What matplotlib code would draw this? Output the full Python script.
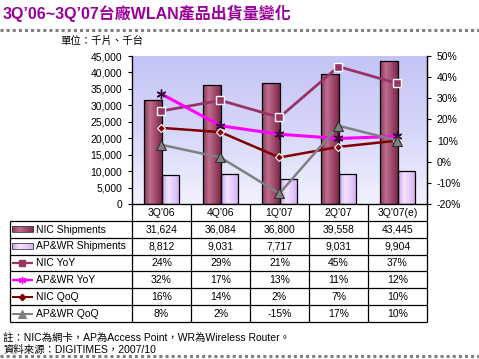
import numpy as np
import matplotlib
matplotlib.use("Agg")
import matplotlib.pyplot as plt
from matplotlib.colors import LinearSegmentedColormap
from matplotlib.lines import Line2D
from matplotlib.patches import Rectangle

plt.rcParams['font.family'] = ['Liberation Sans', 'Noto Sans CJK TC']

categories = ["3Q'06", "4Q'06", "1Q'07", "2Q'07", "3Q'07(e)"]
nic_ship = [31624, 36084, 36800, 39558, 43445]
ap_ship = [8812, 9031, 7717, 9031, 9904]
nic_yoy = [24, 29, 21, 45, 37]
ap_yoy = [32, 17, 13, 11, 12]
nic_qoq = [16, 14, 2, 7, 10]
ap_qoq = [8, 2, -15, 17, 10]

W, H = 479, 359
fig = plt.figure(figsize=(W / 100, H / 100), dpi=100)

def fx(px):
    return px / W

def fy(py):
    return 1 - py / H

# plot area in pixels
L, R, T, B = 132, 427, 56, 204
ax = fig.add_axes([fx(L), fy(B), fx(R - L), (B - T) / H])
n = len(categories)
x = np.arange(n)

# background gradient
bg = LinearSegmentedColormap.from_list('bg', ['#f2f2fe', '#d6d6fa', '#c4c4f6'])
ax.imshow(np.linspace(0, 1, 256).reshape(-1, 1), cmap=bg, origin='lower',
          extent=(0, 1, 0, 1), transform=ax.transAxes, aspect='auto', zorder=0)

bw = 0.3
nic_cmap = LinearSegmentedColormap.from_list('nic', ['#8a3a5a', '#bd6d8d', '#a04a6c', '#7a2848'])
ap_cmap = LinearSegmentedColormap.from_list('ap', ['#c8a0f0', '#f4e4ff', '#e6ccfc', '#d0acf4'])

def grad_bars(xs, vals, cmap):
    bars = ax.bar(xs, vals, width=bw, align='edge',
                  facecolor='none', edgecolor='black', linewidth=0.9, zorder=3)
    for b in bars:
        x0, y0, w, h = b.get_x(), b.get_y(), b.get_width(), b.get_height()
        im = ax.imshow(np.linspace(0, 1, 64).reshape(1, -1), cmap=cmap,
                       extent=(x0, x0 + w, y0, y0 + h), aspect='auto', zorder=2)
        im.set_clip_path(b)
    return bars

grad_bars(x - bw, nic_ship, nic_cmap)
grad_bars(x, ap_ship, ap_cmap)

ax.set_xlim(-0.5, n - 0.5)
ax.set_ylim(0, 45000)
ax.set_yticks(np.arange(0, 45001, 5000))
ax.set_yticklabels([f"{v:,}" for v in range(0, 45001, 5000)], fontsize=7.5)
ax.set_xticks([])
ax.spines['top'].set_visible(False)
ax.tick_params(axis='y', direction='out', length=3, width=0.8, pad=4)
for s in ['left', 'bottom', 'right']:
    ax.spines[s].set_linewidth(0.9)

ax2 = ax.twinx()
ax2.set_ylim(-20, 50)
ax2.set_yticks(np.arange(-20, 51, 10))
ax2.set_yticklabels([f"{v}%" for v in range(-20, 51, 10)], fontsize=7.5)
ax2.tick_params(axis='y', direction='out', length=3, width=0.8, pad=4)
ax2.spines['top'].set_visible(False)
ax2.spines['right'].set_linewidth(0.9)
ax2.set_xlim(-0.5, n - 0.5)

styles = [
    (nic_yoy, dict(color='#993366', lw=2, marker='s', ms=6, mfc='#993366', mec='white', mew=1)),
    (ap_yoy, dict(color='#ff00ff', lw=2.2, marker=(6, 2, 0), ms=7, mfc='#ff00ff', mec='#330033', mew=1)),
    (nic_qoq, dict(color='#800000', lw=1.8, marker='D', ms=4.5, mfc='#800000', mec='white', mew=0.8)),
    (ap_qoq, dict(color='#808080', lw=1.8, marker='^', ms=7, mfc='#808080', mec='#303030', mew=0.8)),
]
for vals, st in styles:
    ax2.plot(x, vals, zorder=5, **st)

# ---- data table ----
TL = 10
TB = 322
tax = fig.add_axes([fx(TL), fy(TB), fx(R - TL), (TB - B) / H])
upx = 1.0 / ((R - L) / n)  # data units per pixel
xmin = -0.5 - (L - TL) * upx
tax.set_xlim(xmin, n - 0.5)
tax.set_ylim(7, 0)
tax.axis('off')
lk = dict(color='black', lw=0.9, solid_capstyle='butt', clip_on=False)
for r in range(1, 8):
    tax.plot([xmin, n - 0.5], [r, r], **lk)
for k in range(n + 1):
    tax.plot([-0.5 + k, -0.5 + k], [0, 7], **lk)
tax.plot([xmin, xmin], [1, 7], **lk)

fs = 7.5
for i, c in enumerate(categories):
    tax.text(i, 0.55, c, ha='center', va='center', fontsize=fs)
rows = [
    ("NIC Shipments", nic_ship, lambda v: f"{v:,}"),
    ("AP&WR Shipments", ap_ship, lambda v: f"{v:,}"),
    ("NIC YoY", nic_yoy, lambda v: f"{v}%"),
    ("AP&WR YoY", ap_yoy, lambda v: f"{v}%"),
    ("NIC QoQ", nic_qoq, lambda v: f"{v}%"),
    ("AP&WR QoQ", ap_qoq, lambda v: f"{v}%"),
]
ix0 = xmin + 1.5 * upx
ix1 = xmin + 23 * upx
for r, (lab, vals, f) in enumerate(rows, start=1):
    yc = r + 0.52
    for i, v in enumerate(vals):
        tax.text(i, yc, f(v), ha='center', va='center', fontsize=fs)
    tax.text(xmin + 26 * upx, yc, lab, ha='left', va='center', fontsize=fs)
for r, cm in [(1, nic_cmap), (2, ap_cmap)]:
    rect = Rectangle((ix0, r + 0.33), ix1 - ix0, 0.36, facecolor='none',
                     edgecolor='#404040', lw=0.6, zorder=3)
    tax.add_patch(rect)
    im = tax.imshow(np.linspace(0, 1, 32).reshape(1, -1), cmap=cm,
                    extent=(ix0, ix1, r + 0.69, r + 0.33), aspect='auto', zorder=2)
    im.set_clip_path(rect)
tax.set_xlim(xmin, n - 0.5)
tax.set_ylim(7, 0)
for r, (vals, st) in enumerate(styles, start=3):
    tax.plot([ix0, ix1], [r + 0.5, r + 0.5], color=st['color'], lw=st['lw'] * 0.8,
             solid_capstyle='butt')
    tax.plot([(ix0 + ix1) / 2], [r + 0.5], linestyle='none', marker=st['marker'],
             ms=st['ms'] * 0.75, mfc=st['mfc'], mec=st['mfc'], mew=st['mew'])

# ---- texts ----
fig.text(fx(3), fy(13), "3Q’06~3Q’07台廠WLAN產品出貨量變化", color='#990099',
         fontsize=11.5, fontweight='bold', ha='left', va='center')
fig.add_artist(Line2D([0, 1], [fy(29.5), fy(29.5)], color='#808080', lw=2.2,
                      linestyle=(0, (1, 1))))
fig.text(fx(60), fy(41), "單位：千片、千台", fontsize=fs, ha='left', va='center')
fig.text(fx(3), fy(338), "註：NIC為網卡，AP為Access Point，WR為Wireless Router。",
         fontsize=fs, ha='left', va='center')
fig.text(fx(3), fy(350), "資料來源：DIGITIMES，2007/10", fontsize=fs, ha='left', va='center')
fig.add_artist(Line2D([0, 1], [fy(355.5), fy(355.5)], color='#808080', lw=2.2,
                      linestyle=(0, (1, 1))))

fig.savefig("out.png", dpi=100)
